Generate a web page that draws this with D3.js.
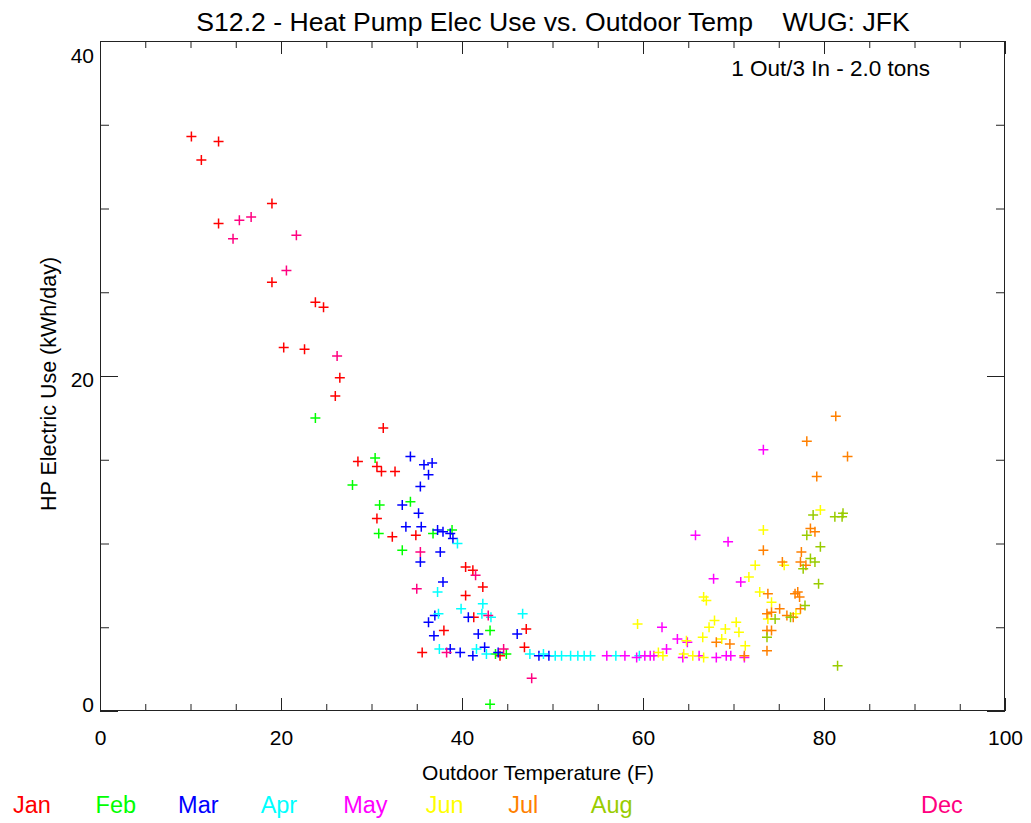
<!DOCTYPE html>
<html>
<head>
<meta charset="utf-8">
<script src="https://cdn.jsdelivr.net/npm/d3@7"></script>
<style>
  html, body { margin: 0; padding: 0; background: #fff; }
  svg { display: block; font-family: "Liberation Sans", Arial, sans-serif; }
</style>
</head>
<body>
<svg id="chart" width="1031" height="823"></svg>
<script>
// Daily heat pump electricity use (kWh/day) against mean outdoor temperature (F),
// one array of [temperature, use] pairs per month.
const jan = [[10.1,34.3],[13.1,34.0],[11.2,32.9],[19.0,30.3],[13.1,29.1],[19.0,25.6],[23.8,24.4],[24.7,24.1],
  [20.3,21.7],[22.6,21.6],[26.5,19.9],[26.0,18.8],[31.3,16.9],[28.5,14.9],[30.6,14.6],[31.1,14.3],[32.6,14.3],
  [30.6,11.5],[32.3,10.4],[34.9,10.5],[40.4,8.6],[41.2,8.4],[42.3,7.4],[40.4,6.9],[41.3,5.6],[47.1,4.9],
  [38.0,4.8],[46.9,3.8],[35.6,3.5],[44.2,3.3]];
const feb = [[23.8,17.5],[30.4,15.1],[27.9,13.5],[30.9,12.3],[34.3,12.5],[36.8,10.6],[38.9,10.8],[30.8,10.6],
  [33.4,9.6],[43.1,4.8],[43.7,3.4],[44.9,3.4],[43.1,0.4]];
const mar = [[34.3,15.2],[35.8,14.7],[36.7,14.8],[36.3,14.1],[35.4,13.4],[33.4,12.3],[35.2,11.8],[33.8,11.0],
  [35.5,11.0],[37.3,10.8],[37.9,10.7],[38.7,10.6],[39.0,10.3],[37.6,9.5],[35.4,8.9],[37.9,7.7],[37.0,5.7],
  [40.7,5.6],[36.3,5.3],[36.9,4.5],[41.8,4.6],[46.1,4.6],[38.7,3.7],[39.8,3.5],[41.2,3.3],[42.5,3.8],
  [44.0,3.5],[48.5,3.3],[49.6,3.3]];
const apr = [[39.5,10.0],[37.3,7.1],[42.3,6.4],[39.9,6.1],[42.2,5.8],[43.2,5.6],[46.7,5.8],[37.4,5.8],
  [37.5,3.7],[41.6,3.7],[42.7,3.4],[47.5,3.4],[49.0,3.4],[50.3,3.3],[51.0,3.3],[52.0,3.3],[52.8,3.3],
  [53.5,3.3],[54.2,3.3],[57.0,3.3],[59.6,3.3]];
const may = [[56.0,3.3],[58.0,3.3],[59.3,3.2],[60.2,3.3],[60.8,3.3],[61.2,3.3],[62.1,5.0],[62.6,3.7],
  [63.8,4.3],[64.9,4.1],[64.4,3.2],[66.2,3.3],[68.1,3.2],[69.2,3.3],[69.7,3.3],[71.2,3.2],[65.8,10.5],
  [69.4,10.1],[73.3,15.6],[67.8,7.9],[70.8,7.7]];
const jun = [[61.7,3.5],[62.2,3.3],[59.4,5.2],[64.8,4.2],[64.5,3.4],[65.5,3.3],[66.7,3.2],[66.7,6.8],
  [67.0,6.6],[67.9,5.4],[67.3,5.0],[66.6,4.4],[68.7,4.3],[69.1,4.9],[70.3,5.3],[70.6,4.7],[71.3,3.9],
  [71.7,8.0],[72.4,8.7],[72.9,7.1],[73.3,10.8],[74.2,6.5],[73.8,5.5],[75.6,8.7],[76.9,5.8],[79.6,12.0]];
const jul = [[71.2,3.3],[68.1,4.1],[69.6,4.0],[73.3,9.6],[73.8,7.0],[73.7,5.8],[74.2,5.9],[73.7,4.8],
  [74.2,4.8],[73.7,3.6],[75.1,6.1],[75.4,8.9],[75.9,5.7],[76.6,5.6],[77.4,6.1],[76.8,7.0],[77.1,7.1],
  [77.3,6.8],[77.4,8.9],[77.5,9.5],[78.0,8.7],[78.5,10.9],[79.0,10.7],[79.2,14.0],[78.1,16.1],[81.3,17.6],
  [82.6,15.2]];
const aug = [[74.6,5.5],[73.7,4.4],[76.3,5.6],[77.9,6.3],[77.7,8.5],[78.5,9.1],[79.0,8.9],[79.4,7.6],
  [79.6,9.8],[78.1,10.5],[78.8,11.7],[81.2,11.6],[82.0,11.6],[82.1,11.8],[81.5,2.7]];
const dec = [[15.4,29.3],[16.7,29.5],[14.7,28.2],[21.7,28.4],[20.6,26.3],[26.2,21.2],[35.4,9.5],[41.5,8.1],
  [35.0,7.3],[42.9,5.7],[38.3,3.5],[44.6,3.7],[47.7,1.95]];

const monthNames = ["Jan","Feb","Mar","Apr","May","Jun","Jul","Aug","Sep","Oct","Nov","Dec"];
const monthColors = ["#ff0000","#00ff00","#0000ff","#00ffff","#ff00ff","#ffff00","#ff8000","#99cc00",
  "#808080","#808080","#808080","#ff0080"];
const monthData = [jan, feb, mar, apr, may, jun, jul, aug, [], [], [], dec];

const xTicks = [0, 20, 40, 60, 80, 100];
const yTicks = [0, 20, 40];

const titleText = "S12.2 - Heat Pump Elec Use vs. Outdoor Temp    WUG: JFK";
const subtitleText = "1 Out/3 In - 2.0 tons";
const xTitle = "Outdoor Temperature (F)";
const yTitle = "HP Electric Use (kWh/day)";

const svg = d3.select("#chart");
const plot = { left: 100, right: 1005, top: 41, bottom: 711 };

const x = d3.scaleLinear().domain([0, 100]).range([plot.left, plot.right]);
const y = d3.scaleLinear().domain([0, 40]).range([plot.bottom, plot.top]);
// value labels on the left axis sit slightly inside the tick positions
const yLabel = d3.scaleLinear().domain([0, 40]).range([703.5, 54.5]);

const axisStyle = g => {
  g.select(".domain").remove();
  g.selectAll(".tick line").attr("stroke", "#222").attr("stroke-width", 1);
};

// minor ticks on all four sides (inward)
const minorX = d3.range(0, 101, 5), minorY = d3.range(0, 41, 5);
svg.append("g").attr("transform", `translate(0,${plot.bottom})`)
  .call(d3.axisBottom(x).tickValues(minorX).tickSize(-7).tickFormat("")).call(axisStyle);
svg.append("g").attr("transform", `translate(0,${plot.top})`)
  .call(d3.axisTop(x).tickValues(minorX).tickSize(-7).tickFormat("")).call(axisStyle);
svg.append("g").attr("transform", `translate(${plot.left},0)`)
  .call(d3.axisLeft(y).tickValues(minorY).tickSize(-9).tickFormat("")).call(axisStyle);
svg.append("g").attr("transform", `translate(${plot.right},0)`)
  .call(d3.axisRight(y).tickValues(minorY).tickSize(-9).tickFormat("")).call(axisStyle);

// major ticks with labels
const xAxis = svg.append("g").attr("transform", `translate(0,${plot.bottom})`)
  .call(d3.axisBottom(x).tickValues(xTicks).tickSize(-13).tickPadding(19).tickFormat(d3.format("d")))
  .call(axisStyle);
xAxis.selectAll("text").attr("fill", "#000").style("font-size", "21px");
svg.append("g").attr("transform", `translate(0,${plot.top})`)
  .call(d3.axisTop(x).tickValues(xTicks).tickSize(-13).tickFormat("")).call(axisStyle);

const yAxis = svg.append("g").attr("transform", `translate(${plot.left},0)`)
  .call(d3.axisLeft(y).tickValues(yTicks).tickSize(-18).tickPadding(6).tickFormat(d3.format("d")))
  .call(axisStyle);
yAxis.selectAll("text").attr("fill", "#000").style("font-size", "21px")
  .attr("y", d => yLabel(d) - y(d)).attr("dy", "0.36em");
svg.append("g").attr("transform", `translate(${plot.right},0)`)
  .call(d3.axisRight(y).tickValues(yTicks).tickSize(-18).tickFormat("")).call(axisStyle);

// plot frame
svg.append("rect")
  .attr("x", plot.left + 0.5).attr("y", plot.top + 0.5)
  .attr("width", plot.right - plot.left - 1).attr("height", plot.bottom - plot.top - 1)
  .attr("fill", "none").attr("stroke", "#222").attr("stroke-width", 1);

// plus-sign markers
const plusPath = "M-5,0H5M0,-5V5";
monthData.forEach((pts, m) => {
  svg.append("g").selectAll("path").data(pts).join("path")
    .attr("d", plusPath)
    .attr("transform", d => `translate(${x(d[0])},${y(d[1])})`)
    .attr("fill", "none")
    .attr("stroke", monthColors[m])
    .attr("stroke-width", 1.5);
});

// titles
svg.append("text").attr("x", 553).attr("y", 31)
  .attr("text-anchor", "middle").style("font-size", "26.6px").attr("fill", "#000")
  .attr("xml:space", "preserve").style("white-space", "pre")
  .text(titleText);
svg.append("text").attr("x", 930).attr("y", 76)
  .attr("text-anchor", "end").style("font-size", "22.5px").attr("fill", "#000")
  .text(subtitleText);
svg.append("text").attr("x", 538).attr("y", 780)
  .attr("text-anchor", "middle").style("font-size", "21px").attr("fill", "#000")
  .text(xTitle);
svg.append("text").attr("transform", "translate(56,384) rotate(-90)")
  .attr("text-anchor", "middle").style("font-size", "21.5px").attr("fill", "#000")
  .text(yTitle);

// month legend: one slot per month, drawn only for months with data
const legendX = d3.scaleLinear().domain([0, 11]).range([13, 921]);
svg.append("g").selectAll("text")
  .data(monthNames.map((name, i) => ({ name, i })).filter(d => monthData[d.i].length > 0))
  .join("text")
  .attr("x", d => legendX(d.i)).attr("y", 813)
  .style("font-size", "23.5px")
  .attr("fill", d => monthColors[d.i])
  .text(d => d.name);
</script>
</body>
</html>
